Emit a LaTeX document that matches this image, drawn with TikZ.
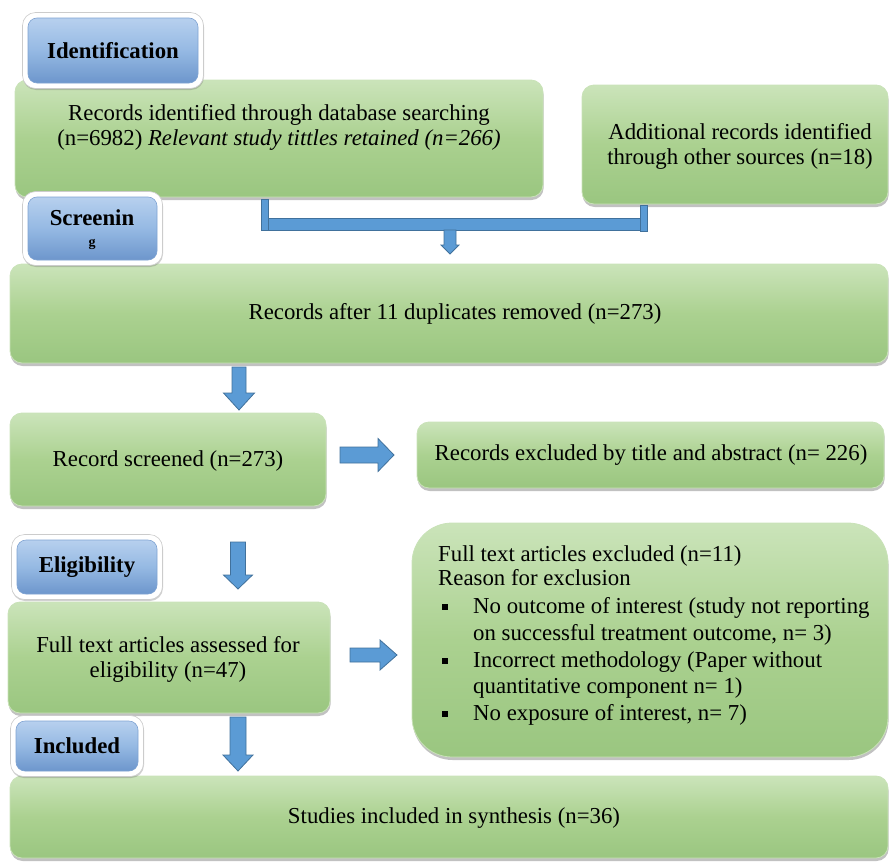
\documentclass[tikz,border=0pt]{standalone}
\usepackage{fontspec}
\setmainfont{Liberation Serif}
\usetikzlibrary{shadows}
\definecolor{gtop}{HTML}{CBE4BA}
\definecolor{gmid}{HTML}{ABD190}
\definecolor{gbot}{HTML}{9AC680}
\definecolor{gedge}{HTML}{C9E2B8}
\definecolor{btop}{HTML}{B7D0EE}
\definecolor{bmid}{HTML}{95B9E3}
\definecolor{bbot}{HTML}{6D96CC}
\definecolor{bedge}{HTML}{7FA3D2}
\definecolor{afill}{HTML}{5B9BD5}
\definecolor{aedge}{HTML}{41719C}
\newcommand\blkdown[6]{\draw[barrow] (#1-#5,#2) -- (#1+#5,#2) -- (#1+#5,#3) -- (#1+#6,#3) -- (#1,#4) -- (#1-#6,#3) -- (#1-#5,#3) -- cycle;}
\newcommand\blkright[6]{\draw[barrow] (#2,#1-#5) -- (#2,#1+#5) -- (#3,#1+#5) -- (#3,#1+#6) -- (#4,#1) -- (#3,#1-#6) -- (#3,#1-#5) -- cycle;}
\newcommand\blab[6]{%
  \node[halo, minimum width=#4+11, minimum height=#5+11] (#1h) at (#2,#3) {};
  \node[blabel, minimum width=#4, minimum height=#5] (#1) at (#2,#3) {#6};}
\begin{document}
\begin{tikzpicture}[x=1pt,y=-1pt,
  font=\fontsize{22.8}{25}\selectfont,
  gbox/.style={rectangle, rounded corners=12pt, top color=gtop, bottom color=gbot, middle color=gmid,
    draw=gedge, line width=0.8pt, inner sep=0pt, outer sep=0pt,
    drop shadow={shadow xshift=0.6pt, shadow yshift=-3pt, opacity=0.35, fill=black!70}},
  halo/.style={rectangle, rounded corners=13pt, fill=white, draw=black!20, line width=0.6pt, inner sep=0pt, outer sep=0pt,
    drop shadow={shadow xshift=0.5pt, shadow yshift=-1.5pt, opacity=0.3, fill=black!60}},
  blabel/.style={rectangle, rounded corners=9pt, top color=btop, bottom color=bbot, middle color=bmid,
    draw=bedge, line width=0.6pt, inner sep=0pt, outer sep=0pt, font=\fontsize{22.8}{25}\selectfont\bfseries},
  txt/.style={inner sep=0pt, align=center},
  ltxt/.style={inner sep=0pt, anchor=base west},
  barrow/.style={fill=afill, draw=aedge, line width=0.8pt, line join=miter}]
\useasboundingbox (0,0) rectangle (889,862);

% green boxes
\node[gbox, minimum width=528, minimum height=117] (recid) at (279,138.5) {};
\node[txt] (recidt) at (279,127) {Records identified through database searching\\(n=6982) \textit{Relevant study tittles retained (n=266)}};
\node[gbox, minimum width=306, minimum height=119] (addrec) at (735,144.5) {};
\node[txt] (addrect) at (740,146) {Additional records identified\\through other sources (n=18)};
\node[gbox, minimum width=878, minimum height=99] (after) at (449,313.5) {};
\node[txt] (aftert) at (455,314) {Records after 11 duplicates removed (n=273)};
\node[gbox, minimum width=316, minimum height=93] (scr) at (168,459.5) {};
\node[txt] (scrt) at (168,461) {Record screened (n=273)};
\node[gbox, minimum width=467, minimum height=66] (exc1) at (650.5,455) {};
\node[txt] (exc1t) at (651,455) {Records excluded by title and abstract (n= 226)};
\node[gbox, minimum width=322, minimum height=111] (ass) at (169,657.5) {};
\node[txt] (asst) at (168,659) {Full text articles assessed for\\eligibility (n=47)};
\node[gbox, rounded corners=40pt, minimum width=476, minimum height=234] (exc2) at (650,640) {};
\node[ltxt] (e1) at (438,561) {Full text articles excluded (n=11)};
\node[ltxt] (e2) at (438,585) {Reason for exclusion};
\node[ltxt] (e3) at (473,613) {No outcome of interest (study not reporting};
\node[ltxt] (e4) at (473,640) {on successful treatment outcome, n= 3)};
\node[ltxt] (e5) at (473,667) {Incorrect methodology (Paper without};
\node[ltxt] (e6) at (473,693) {quantitative component n= 1)};
\node[ltxt] (e7) at (473,720) {No exposure of interest, n= 7)};
\fill (442,604) rectangle (448,610);
\fill (442,658) rectangle (448,664);
\fill (442,711) rectangle (448,717);
\node[gbox, minimum width=878, minimum height=82] (stud) at (449,817) {};
\node[txt] (studt) at (454,818) {Studies included in synthesis (n=36)};

% blue stage labels
\blab{lid}{113}{50.5}{170}{65}{Identification}
\blab{lscr}{92.5}{228.5}{129}{63}{}
\node[txt, font=\fontsize{22.8}{25}\selectfont\bfseries] (lscrt) at (92,218) {Screenin};
\node[txt, font=\fontsize{14}{15}\selectfont\bfseries] (lscrg) at (92,244) {g};
\blab{lel}{87}{567}{140}{54}{Eligibility}
\blab{lin}{77}{746}{122}{50}{Included}

% connectors
\draw[barrow] (264,218) rectangle (643,230);
\draw[barrow] (261,199) rectangle (268,230);
\draw[barrow] (640,205) rectangle (647,231);
\blkdown{450}{230}{245}{254}{6}{9}
\blkdown{239}{367}{393}{410}{7}{15.5}
\blkright{455}{340}{378}{394}{8}{16.5}
\blkdown{238}{542}{575}{589}{7.5}{14.5}
\blkright{655}{350}{380}{397}{7}{15}
\blkdown{238}{717}{755}{771}{8}{15}
\end{tikzpicture}
\end{document}
